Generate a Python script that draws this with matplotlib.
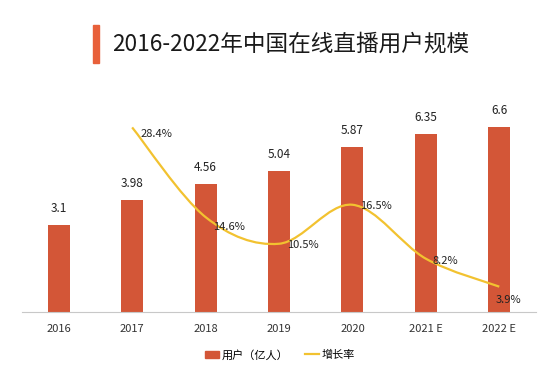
import matplotlib
matplotlib.use("Agg")
import matplotlib.pyplot as plt
from matplotlib.path import Path
from matplotlib.patches import PathPatch, Rectangle
from matplotlib.lines import Line2D
import numpy as np

plt.rcParams['font.family'] = ['Noto Sans CJK SC', 'DejaVu Sans']

# 数据
years = ['2016', '2017', '2018', '2019', '2020', '2021 E', '2022 E']
users = [3.1, 3.98, 4.56, 5.04, 5.87, 6.35, 6.6]
growth_years = [1, 2, 3, 4, 5, 6]
growth = [28.4, 14.6, 10.5, 16.5, 8.2, 3.9]
# 增长率标签偏移（像素）
label_dx = [8, 8, 8, 8, 7, -4]
label_dy = [-7, -10, -1, -1, -2, -13]

bar_color = '#D35637'
line_color = '#F2C230'

fig = plt.figure(figsize=(5.56, 3.78), dpi=100)
ax = fig.add_axes([22 / 556, 66 / 378, 514 / 556, 212 / 378])
x = np.arange(len(years))
bars = ax.bar(x, users, width=0.3, color=bar_color, zorder=2)
for xi, v in zip(x, users):
    ax.annotate(f'{v:g}', (xi, v), xytext=(0, 10), textcoords='offset pixels',
                ha='center', va='bottom', fontsize=8.5, color='#222222')

ax.set_xlim(-0.5, 6.5)
ax.set_ylim(0, 212 / 28.06)
ax.set_xticks(x)
ax.set_xticklabels(years, fontsize=8, color='#333333')
ax.tick_params(axis='x', length=0, pad=9)
ax.set_yticks([])
for s in ['top', 'right', 'left']:
    ax.spines[s].set_visible(False)
ax.spines['bottom'].set_color('#c8c8c8')

# 增长率（平滑曲线）
ax2 = ax.twinx()
ax2.set_ylim(0, 212 / 6.5)
ax2.set_yticks([])
for s in ax2.spines.values():
    s.set_visible(False)

pts = np.column_stack([growth_years, growth]).astype(float)
ext = np.vstack([pts[0], pts, pts[-1]])
verts = [tuple(pts[0])]
codes = [Path.MOVETO]
for i in range(1, len(ext) - 2):
    p0, p1, p2, p3 = ext[i - 1], ext[i], ext[i + 1], ext[i + 2]
    c1 = p1 + (p2 - p0) / 6
    c2 = p2 - (p3 - p1) / 6
    verts += [tuple(c1), tuple(c2), tuple(p2)]
    codes += [Path.CURVE4] * 3
ax2.add_patch(PathPatch(Path(verts, codes), fill=False, edgecolor=line_color,
                        lw=1.6, zorder=3))
for xi, g, dx, dy in zip(growth_years, growth, label_dx, label_dy):
    ax2.annotate(f'{g}%', (xi, g), xytext=(dx, dy), textcoords='offset pixels',
                 ha='left', va='center', fontsize=8, color='#222222')

# 标题
fig.patches.append(Rectangle((93 / 556, 1 - 63 / 378), 6 / 556, 38 / 378,
                             transform=fig.transFigure, color='#E8603A'))
fig.text(112 / 556, 1 - 44 / 378, '2016-2022年中国在线直播用户规模',
         ha='left', va='center', fontsize=16.3, fontweight='medium', color='#1a1a1a')

# 图例
handles = [Rectangle((0, 0), 1, 1, color=bar_color),
           Line2D([0], [0], color=line_color, lw=1.6)]
fig.legend(handles, ['用户（亿人）', '增长率'], loc='center',
           bbox_to_anchor=(280 / 556, 1 - 355 / 378), ncol=2, frameon=False,
           fontsize=8, handlelength=1.3, handletextpad=0.2, columnspacing=1.5)

fig.savefig('out.png', dpi=100)
